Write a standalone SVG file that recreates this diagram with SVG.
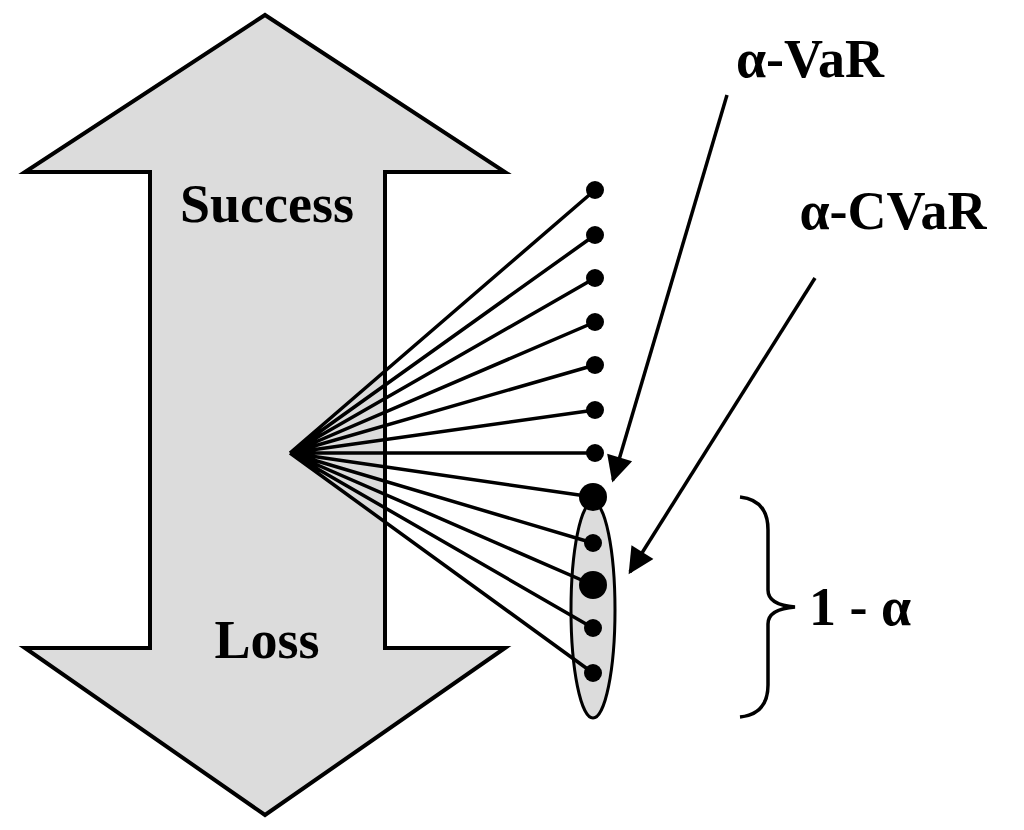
<svg xmlns="http://www.w3.org/2000/svg" width="1024" height="830" viewBox="0 0 1024 830">
<style>
text{font-family:"Liberation Serif",serif;font-weight:bold;font-size:54px;fill:#000}
.l{stroke:#000;stroke-width:3.5;fill:none}
</style>
<defs>
<marker id="h" viewBox="0 0 10 10" refX="9" refY="5" markerWidth="30" markerHeight="26" orient="auto" markerUnits="userSpaceOnUse"><path d="M0,0L10,5L0,10z" fill="#000"/></marker></defs>
<rect width="1024" height="830" fill="#fff"/>
<g id="bigarrow"><path d="M265,15L505,172H385V648H505L265,815L25,648H150V172H25Z" fill="#dcdcdc" stroke="#000" stroke-width="4"/>
<text x="267" y="222" text-anchor="middle">Success</text>
<text x="267" y="658" text-anchor="middle">Loss</text></g>
<g id="tail"><ellipse cx="593" cy="610" rx="22" ry="108" fill="#dcdcdc" stroke="#000" stroke-width="3"/></g>
<g id="connectors" class="l">
<path d="M290,453L595,190M290,453L595,235M290,453L595,278M290,453L595,322M290,453L595,365M290,453L595,410M290,453L595,453M290,453L593,497M290,453L593,543M290,453L593,585M290,453L593,628M290,453L593,673"/>
<path d="M727,95L613,480" marker-end="url(#h)"/>
<path d="M815,278L630,572" marker-end="url(#h)"/>
<path d="M740,497Q768,500 768,530V590Q768,605 795,607Q768,609 768,624V685Q768,714 740,717"/>
</g>
<g id="dots">
<circle cx="595" cy="190" r="9"/><circle cx="595" cy="235" r="9"/><circle cx="595" cy="278" r="9"/><circle cx="595" cy="322" r="9"/><circle cx="595" cy="365" r="9"/><circle cx="595" cy="410" r="9"/><circle cx="595" cy="453" r="9"/>
<circle cx="593" cy="497" r="14"/><circle cx="593" cy="543" r="9"/><circle cx="593" cy="585" r="14"/><circle cx="593" cy="628" r="9"/><circle cx="593" cy="673" r="9"/>
</g>
<g id="labels">
<text x="810" y="77" text-anchor="middle">α-VaR</text>
<text x="893" y="229" text-anchor="middle">α-CVaR</text>
<text x="860" y="625" text-anchor="middle">1 - α</text>
</g>
</svg>
